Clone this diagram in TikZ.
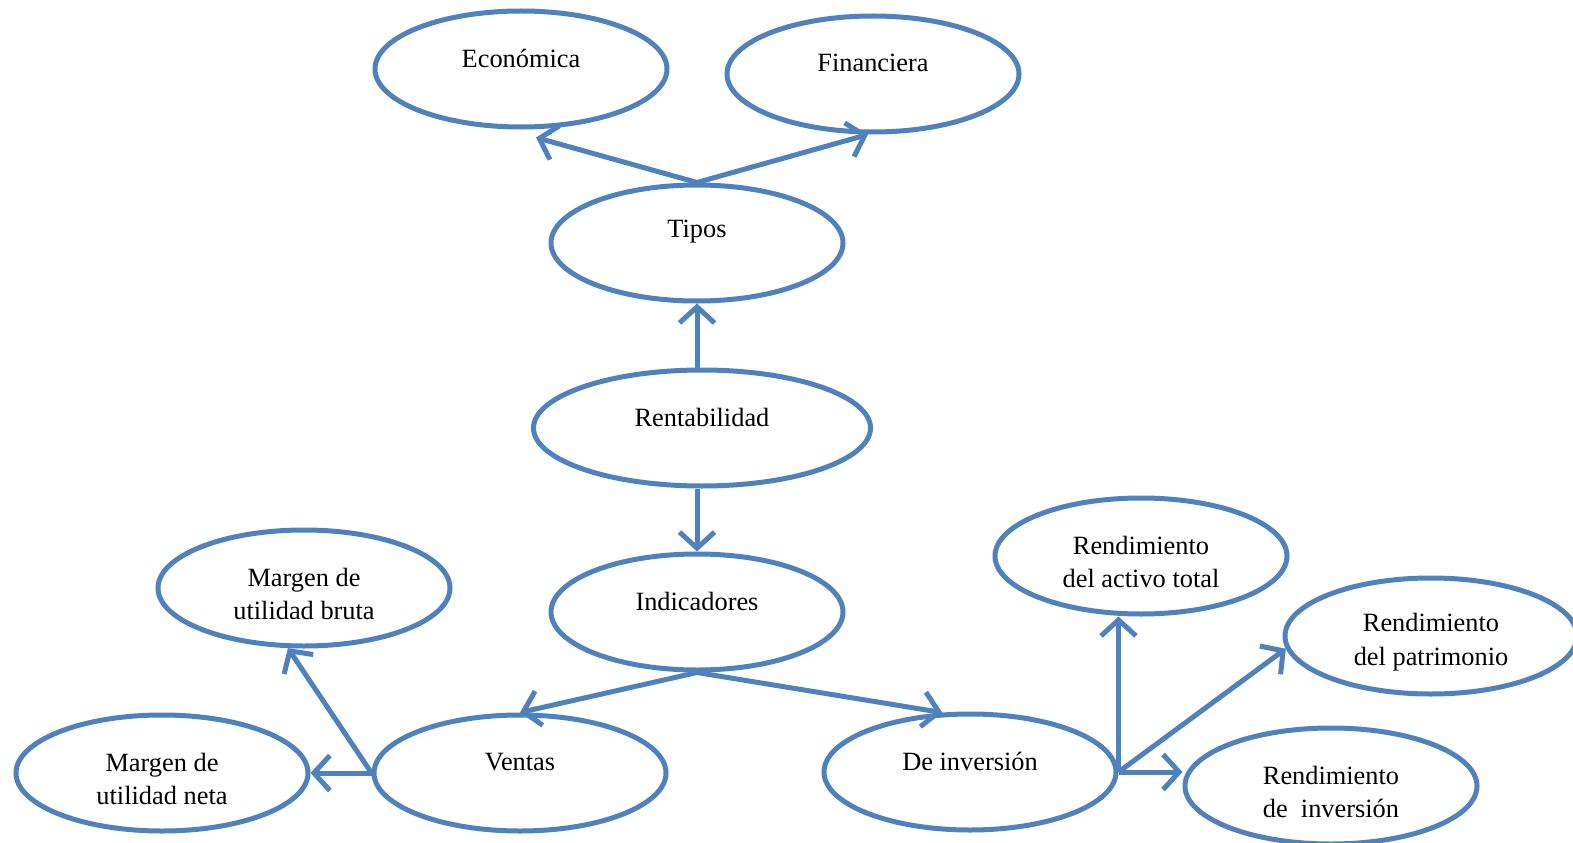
\documentclass[tikz,border=0pt]{standalone}
\usepackage{fontspec}
\setmainfont{Liberation Serif}
\usetikzlibrary{positioning}
\usetikzlibrary{arrows.meta}
\usetikzlibrary{shapes.geometric,calc}
\definecolor{azulw}{RGB}{79,129,189}
\tikzset{
  bubble/.style={ellipse, draw=azulw, line width=0.1cm,
    minimum width=5.84cm, minimum height=2.32cm,
    label={[lbl]center:#1}},
  bubbletwo/.style={bubble={}, label={[lbl, yshift=-0.34cm]center:#1}},
  lbl/.style={anchor=base, yshift=0.22cm, align=center,
    font=\fontsize{15}{19}\selectfont},
  flecha/.style={draw=azulw, line width=0.1cm,
    -{Straight Barb[length=3.2mm,width=7mm]}}
}

\begin{document}
\begin{tikzpicture}
\useasboundingbox (0,0) rectangle (31.46,-16.86);

% Tipos de rentabilidad
\node[bubble={Económica}] (economica) at (10.42,-1.38) {};
\node[bubble={Financiera}] (financiera) at (17.46,-1.48) {};
\node[bubble={Tipos}] (tipos) at (13.94,-4.86) {};

% Rentabilidad
\node[bubble={Rentabilidad},
    minimum width=6.74cm
] (rentab) at (14.04,-8.56) {};

% Indicadores
\node[bubble={Indicadores}] (indic) at (13.94,-12.24) {};

% Ventas
\node[bubble={Ventas}] (ventas) at (10.40,-15.46) {};
\node[bubbletwo={Margen de\\utilidad bruta}] (bruta) at (6.08,-11.76) {};
\node[bubbletwo={Margen de\\utilidad neta}] (neta) at (3.24,-15.46) {};

% De inversion
\node[bubble={De inversión}] (deinv) at (19.40,-15.44) {};
\node[bubbletwo={Rendimiento\\del activo total}] (activo) at (22.82,-11.12) {};
\node[bubbletwo={Rendimiento\\del patrimonio}] (patrim) at (28.62,-12.72) {};
\node[bubbletwo={Rendimiento\\de~~inversión}] (rendinv) at (26.62,-15.72) {};

% Arrows
\draw[flecha] (tipos.north) -- ([xshift=0.3cm,yshift=-0.16cm]economica.south);
\draw[flecha] (tipos.north) -- ([xshift=-0.1cm]financiera.south);
\draw[flecha] (rentab.north -| tipos.south) -- (tipos.south);
\draw[flecha] (rentab.south -| indic.north) -- (indic.north);

\draw[flecha] (indic.south) -- (ventas.north);
\draw[flecha] (indic.south) -- (deinv.115);

\draw[flecha] (ventas.west) -- (bruta.-105);
\draw[flecha] (ventas.west) -- (neta.east);

\draw[flecha] (deinv.east) -- (deinv.east |- activo.south);
\draw[flecha] (deinv.east) -- (patrim.185);
\draw[flecha] (deinv.east) -- (deinv.east -| rendinv.west);

\end{tikzpicture}
\end{document}
